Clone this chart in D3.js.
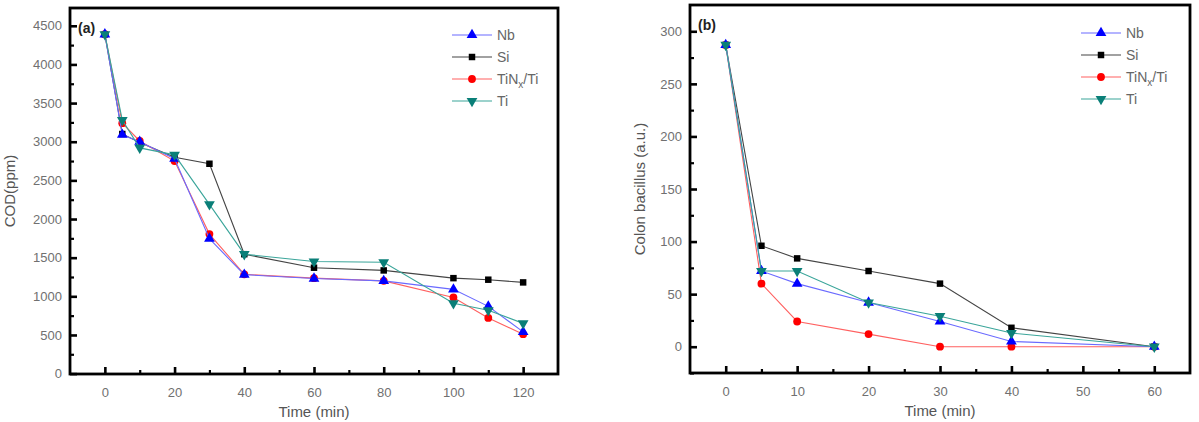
<!DOCTYPE html>
<html lang="en">
<head>
<script src="https://d3js.org/d3.v7.min.js"></script>
<style>
  body { margin: 0; background: #fff; }
  text { font-family: "Liberation Sans", Arial, sans-serif; }
</style>
</head>
<body>
<script>
// series names (legend order)
const seriesNames = ["Nb", "Si", "TiNx/Ti", "Ti"];

// panel (a): COD vs time
const timeA = [0, 5, 10, 20, 30, 40, 60, 80, 100, 110, 120];
const codNb   = [4390, 3090, 3000, 2780, 1745, 1280, 1230, 1200, 1090, 870, 540];
const codSi   = [4390, 3100, 2990, 2800, 2715, 1545, 1370, 1335, 1235, 1215, 1180];
const codTiN  = [4390, 3240, 3010, 2750, 1805, 1285, 1235, 1200, 985, 720, 510];
const codTi   = [4390, 3280, 2920, 2830, 2190, 1545, 1450, 1440, 910, 820, 650];
const xTicksA = [0, 20, 40, 60, 80, 100, 120];
const yTicksA = [0, 500, 1000, 1500, 2000, 2500, 3000, 3500, 4000, 4500];

// panel (b): colon bacillus vs time
const timeB = [0, 5, 10, 20, 30, 40, 60];
const bacNb  = [287, 72, 60, 42, 24, 5, 0];
const bacSi  = [287, 96, 84, 72, 60, 18, 0];
const bacTiN = [287, 60, 24, 12, 0, 0, 0];
const bacTi  = [287, 72, 72, 42, 29, 13, 0];
const xTicksB = [0, 10, 20, 30, 40, 50, 60];
const yTicksB = [0, 50, 100, 150, 200, 250, 300];

const W = 1199, H = 422;
const svg = d3.select("body").append("svg")
  .attr("width", W).attr("height", H);

const styles = {
  "Nb":      { line: "#6a6aff", fill: "#0000ff", sym: d3.symbolTriangle, rot: 0,   size: 50 },
  "Si":      { line: "#444",    fill: "#000",    sym: d3.symbolSquare,   rot: 0,   size: 42 },
  "TiNx/Ti": { line: "#ff6060", fill: "#ff0000", sym: d3.symbolCircle,   rot: 0,   size: 48 },
  "Ti":      { line: "#3aa59a", fill: "#0a7f78", sym: d3.symbolTriangle, rot: 180, size: 50 }
};
const drawOrder = ["Si", "TiNx/Ti", "Nb", "Ti"];

function panel(opt) {
  const x = d3.scaleLinear().domain(opt.xDomain).range([opt.left, opt.right]);
  const y = d3.scaleLinear().domain(opt.yDomain).range([opt.bottom, opt.top]);
  const g = svg.append("g");

  // minor ticks
  g.append("g").attr("transform", `translate(0,${opt.bottom})`)
    .call(d3.axisBottom(x).tickValues(opt.xMinor).tickSize(-4).tickFormat(""))
    .call(a => a.select(".domain").remove())
    .selectAll("line").attr("stroke", "#000").attr("stroke-width", 2.2);
  g.append("g").attr("transform", `translate(${opt.left},0)`)
    .call(d3.axisLeft(y).tickValues(opt.yMinor).tickSize(-4).tickFormat(""))
    .call(a => a.select(".domain").remove())
    .selectAll("line").attr("stroke", "#000").attr("stroke-width", 2.2);

  // major ticks
  const fmt = d3.format("d");
  const xa = g.append("g").attr("transform", `translate(0,${opt.bottom})`)
    .call(d3.axisBottom(x).tickValues(opt.xTicks).tickSize(-7).tickPadding(14).tickFormat(fmt));
  xa.select(".domain").remove();
  xa.selectAll("line").attr("stroke", "#000").attr("stroke-width", 2.6);
  xa.selectAll("text").attr("fill", "#707070").style("font-size", "13px")
    .style("font-family", "'Liberation Sans', Arial, sans-serif");

  const ya = g.append("g").attr("transform", `translate(${opt.left},0)`)
    .call(d3.axisLeft(y).tickValues(opt.yTicks).tickSize(-7).tickPadding(8).tickFormat(fmt));
  ya.select(".domain").remove();
  ya.selectAll("line").attr("stroke", "#000").attr("stroke-width", 2.6);
  ya.selectAll("text").attr("fill", "#707070").style("font-size", "13px")
    .style("font-family", "'Liberation Sans', Arial, sans-serif");

  // frame
  g.append("rect")
    .attr("x", opt.left).attr("y", opt.top)
    .attr("width", opt.right - opt.left).attr("height", opt.bottom - opt.top)
    .attr("fill", "none").attr("stroke", "#000").attr("stroke-width", 2.8);

  // series
  drawOrder.forEach(name => {
    const vals = opt.series[name];
    const pts = opt.xs.map((t, i) => [t, vals[i]]);
    const st = styles[name];
    g.append("path").datum(pts)
      .attr("fill", "none").attr("stroke", st.line).attr("stroke-width", 1.1)
      .attr("d", d3.line().x(d => x(d[0])).y(d => y(d[1])));
    g.selectAll(null).data(pts).enter().append("path")
      .attr("d", d3.symbol().type(st.sym).size(st.size))
      .attr("fill", st.fill)
      .attr("transform", d => `translate(${x(d[0])},${y(d[1])}) rotate(${st.rot})`);
  });

  // panel label
  g.append("text").attr("x", opt.left + 8).attr("y", opt.top + 25)
    .attr("font-weight", "bold").attr("font-size", 14).attr("fill", "#222")
    .text(opt.tag);

  // legend
  seriesNames.forEach((name, i) => {
    const st = styles[name];
    const ly = opt.legY + i * 22;
    g.append("line").attr("x1", opt.legX).attr("x2", opt.legX + 40)
      .attr("y1", ly).attr("y2", ly).attr("stroke", st.line).attr("stroke-width", 1.1);
    g.append("path").attr("d", d3.symbol().type(st.sym).size(st.size))
      .attr("fill", st.fill)
      .attr("transform", `translate(${opt.legX + 20},${ly}) rotate(${st.rot})`);
    const t = g.append("text").attr("x", opt.legX + 45).attr("y", ly + 5)
      .attr("font-size", 14).attr("fill", "#666");
    if (name === "TiNx/Ti") {
      t.append("tspan").text("TiN");
      t.append("tspan").attr("font-size", 10).attr("dy", 4).text("x");
      t.append("tspan").attr("dy", -4).text("/Ti");
    } else {
      t.text(name);
    }
  });

  // axis titles
  g.append("text")
    .attr("x", (opt.left + opt.right) / 2).attr("y", opt.xTitleY)
    .attr("text-anchor", "middle").attr("font-size", 15).attr("fill", "#555")
    .text("Time (min)");
  g.append("text")
    .attr("transform", `translate(${opt.yTitleX},${(opt.top + opt.bottom) / 2}) rotate(-90)`)
    .attr("text-anchor", "middle").attr("font-size", 15).attr("fill", "#555")
    .text(opt.yTitle);
}

panel({
  left: 70, right: 558, top: 8, bottom: 374,
  xDomain: [-10, 130], yDomain: [-5, 4730],
  xTicks: xTicksA, yTicks: yTicksA,
  xMinor: [10, 30, 50, 70, 90, 110],
  yMinor: [250, 750, 1250, 1750, 2250, 2750, 3250, 3750, 4250],
  xs: timeA,
  series: { "Nb": codNb, "Si": codSi, "TiNx/Ti": codTiN, "Ti": codTi },
  tag: "(a)", legX: 452, legY: 35,
  xTitleY: 417, yTitleX: 15, yTitle: "COD(ppm)"
});

panel({
  left: 690, right: 1190, top: 5, bottom: 373,
  xDomain: [-5, 65], yDomain: [-25, 325],
  xTicks: xTicksB, yTicks: yTicksB,
  xMinor: [5, 15, 25, 35, 45, 55],
  yMinor: [-25, 25, 75, 125, 175, 225, 275],
  xs: timeB,
  series: { "Nb": bacNb, "Si": bacSi, "TiNx/Ti": bacTiN, "Ti": bacTi },
  tag: "(b)", legX: 1081, legY: 33,
  xTitleY: 416, yTitleX: 645, yTitle: "Colon bacillus (a.u.)"
});
</script>
</body>
</html>
